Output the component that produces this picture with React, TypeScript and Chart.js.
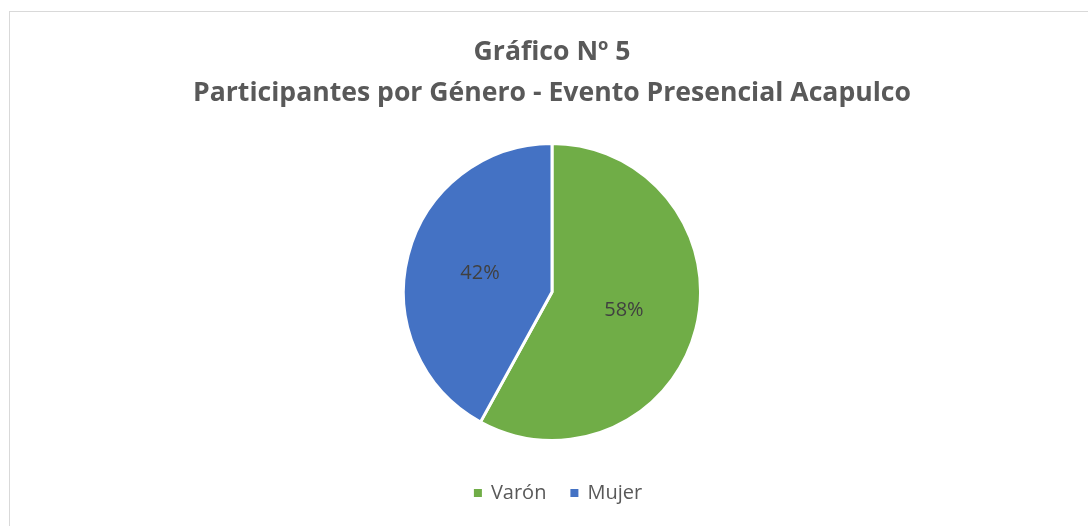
import React, { useEffect, useRef } from "react";
import { Chart, registerables } from "chart.js";

Chart.register(...registerables);

const categories = ["Varón", "Mujer"];
const values = [58, 42];
const colors = ["#70AD47", "#4472C4"];
const titleLines = ["Gráfico Nº 5", "Participantes por Género - Evento Presencial Acapulco"];

const FONT = "'Open Sans', 'DejaVu Sans', sans-serif";

const labelPlugin = {
  id: "sliceLabels",
  afterDatasetsDraw(chart: any) {
    const ctx = chart.ctx;
    const meta = chart.getDatasetMeta(0);
    const total = values.reduce((a, b) => a + b, 0);
    ctx.save();
    ctx.font = `20px ${FONT}`;
    ctx.fillStyle = "#404040";
    ctx.textAlign = "center";
    ctx.textBaseline = "middle";
    meta.data.forEach((arc: any, i: number) => {
      const mid = (arc.startAngle + arc.endAngle) / 2;
      const r = arc.outerRadius * 0.5;
      const x = arc.x + Math.cos(mid) * r;
      const y = arc.y + Math.sin(mid) * r;
      ctx.fillText(Math.round((values[i] / total) * 100) + "%", x, y);
    });
    ctx.restore();
  },
};

const legendPlugin = {
  id: "customLegend",
  afterDraw(chart: any) {
    const ctx = chart.ctx;
    const labels: string[] = chart.data.labels;
    const bg: string[] = chart.data.datasets[0].backgroundColor;
    ctx.save();
    ctx.font = `20px ${FONT}`;
    ctx.textBaseline = "middle";
    ctx.textAlign = "left";
    const box = 8;
    const gapBoxText = 9;
    const gapItems = 24;
    const widths = labels.map((l) => box + gapBoxText + ctx.measureText(l).width);
    const total = widths.reduce((a, b) => a + b, 0) + gapItems * (labels.length - 1);
    const cx = (chart.chartArea.left + chart.chartArea.right) / 2 + 6;
    let x = cx - total / 2;
    const y = 493;
    labels.forEach((l, i) => {
      ctx.fillStyle = bg[i];
      ctx.fillRect(x, y - box / 2, box, box);
      ctx.fillStyle = "#595959";
      ctx.fillText(l, x + box + gapBoxText, y);
      x += widths[i] + gapItems;
    });
    ctx.restore();
  },
};

export default function App() {
  const ref = useRef<HTMLCanvasElement>(null);
  useEffect(() => {
    if (!ref.current) return;
    const chart = new Chart(ref.current, {
      type: "pie",
      data: {
        labels: categories,
        datasets: [
          {
            data: values,
            backgroundColor: colors,
            borderColor: "#ffffff",
            borderWidth: 3,
          },
        ],
      },
      options: {
        responsive: false,
        animation: false,
        layout: { padding: { top: 0, bottom: 84, left: 16, right: 0 } },
        plugins: {
          title: {
            display: true,
            text: titleLines,
            color: "#595959",
            font: { family: FONT, size: 26.6, weight: "bold", lineHeight: 1.54 },
            padding: { top: 32, bottom: 28 },
          },
          legend: { display: false },
          tooltip: { enabled: false },
        },
      },
      plugins: [labelPlugin, legendPlugin],
    });
    return () => chart.destroy();
  }, []);
  return (
    <div style={{ position: "fixed", left: 0, top: 0, width: 1088, height: 526, overflow: "hidden", background: "#fff" }}>
      <div
        style={{
          position: "absolute",
          left: 9,
          top: 11,
          width: 1200,
          height: 600,
          border: "1px solid #d9d9d9",
          boxSizing: "border-box",
        }}
      />
      <canvas ref={ref} width={1088} height={526} style={{ position: "absolute", left: 0, top: 0 }} />
    </div>
  );
}
